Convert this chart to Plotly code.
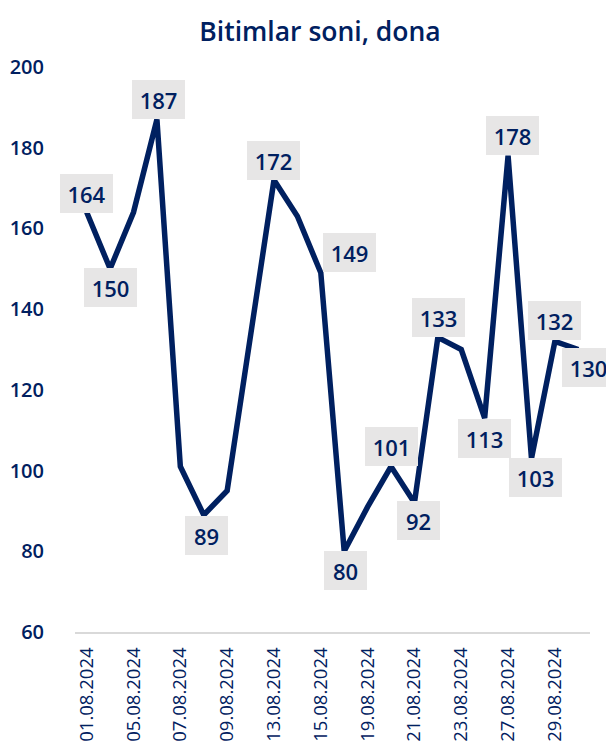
import plotly.graph_objects as go

# ---- data ----
dates = ["01.08.2024", "02.08.2024", "05.08.2024", "06.08.2024", "07.08.2024",
         "08.08.2024", "09.08.2024", "12.08.2024", "13.08.2024", "14.08.2024",
         "15.08.2024", "16.08.2024", "19.08.2024", "20.08.2024", "21.08.2024",
         "22.08.2024", "23.08.2024", "26.08.2024", "27.08.2024", "28.08.2024",
         "29.08.2024", "30.08.2024"]
values = [164, 150, 164, 187, 101, 89, 95, 134, 172, 163, 149, 80, 91, 101, 92,
          133, 130, 113, 178, 103, 132, 130]
tick_labels = dates[::2]
y_ticks = [60, 80, 100, 120, 140, 160, 180, 200]
labeled_idx = [0, 1, 3, 5, 8, 10, 11, 13, 14, 15, 17, 18, 19, 20, 21]

title = "Bitimlar soni, dona"

# ---- styling ----
NAVY = "#002060"
FONT = "Open Sans"
W, H = 598, 738  # page body has an 8px margin
# label offsets in pixels (xshift, yshift) per labeled point
label_offsets = {0: (0, 19), 1: (0, -19), 3: (2, 20), 5: (3, -21), 8: (0, 20),
                 10: (29, 20), 11: (1, -19), 13: (0, 20), 14: (4, -18),
                 15: (1, 20), 17: (0, -20), 18: (4, 20), 19: (4, -19),
                 20: (0, 21), 21: (10, -18)}

fig = go.Figure()
fig.add_trace(go.Scatter(
    x=dates, y=values, mode="lines",
    line=dict(color=NAVY, width=5.5),
    hoverinfo="x+y", showlegend=False,
))

annotations = []
for i in labeled_idx:
    dx, dy = label_offsets[i]
    txt = str(values[i])
    annotations.append(dict(
        x=dates[i], y=values[i], xref="x", yref="y",
        text=txt, showarrow=False,
        xshift=dx, yshift=dy,
        width=53 if len(txt) == 3 else 43, height=39,
        bgcolor="#e7e6e6", borderpad=0, borderwidth=0,
        font=dict(family=FONT, size=22, color=NAVY, weight=600),
        xanchor="center", yanchor="middle",
    ))

fig.update_layout(
    width=W, height=H,
    margin=dict(l=67, r=16, t=59, b=114, autoexpand=False),
    paper_bgcolor="white", plot_bgcolor="white",
    title=dict(text=title, x=312 / W, xref="container", xanchor="center",
               y=1 - 24 / H, yref="container", yanchor="middle",
               font=dict(family=FONT, size=26.5, color=NAVY, weight=600)),
    annotations=annotations,
    xaxis=dict(
        type="category", range=[-0.5, len(dates) - 0.5],
        tickmode="array", tickvals=tick_labels, ticktext=tick_labels,
        tickangle=-90, showgrid=False, zeroline=False,
        showline=True, linecolor="#d9d9d9", linewidth=2,
        ticks="", ticklabelstandoff=6,
        tickfont=dict(family=FONT, size=18.5, color=NAVY, weight=500),
    ),
    yaxis=dict(
        range=[60, 200], tickvals=y_ticks, showgrid=False, zeroline=False,
        showline=False, ticks="", ticklabelstandoff=30,
        tickfont=dict(family=FONT, size=20, color=NAVY, weight=600),
    ),
)

fig.write_html("out.html")
